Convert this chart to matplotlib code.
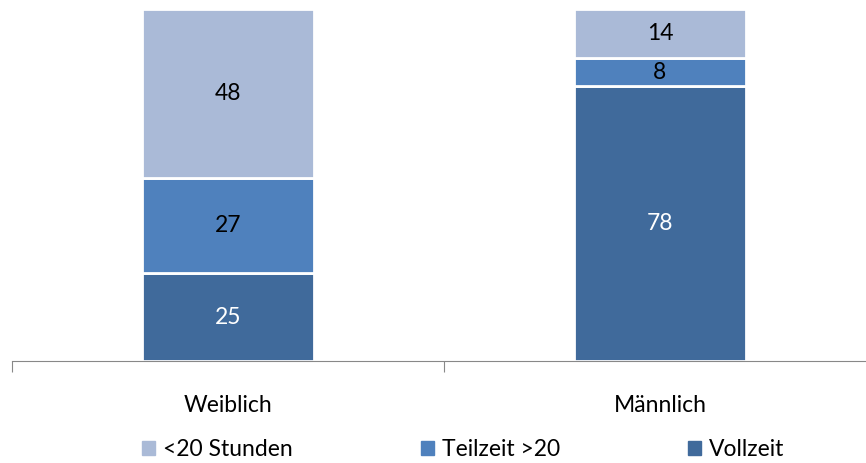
import numpy as np
import matplotlib.pyplot as plt
from matplotlib.patches import Patch

# Daten
kategorien = ['Weiblich', 'Männlich']
serien = ['<20 Stunden', 'Teilzeit >20', 'Vollzeit']
vollzeit = [25, 78]
teilzeit = [27, 8]
unter20 = [48, 14]

farben = {'Vollzeit': '#406A9B', 'Teilzeit >20': '#4F81BD', '<20 Stunden': '#AABAD7'}
textfarben = {'Vollzeit': 'white', 'Teilzeit >20': 'black', '<20 Stunden': 'black'}

plt.rcParams['font.family'] = ['Lato', 'DejaVu Sans']
fs = 16.5

fig = plt.figure(figsize=(8.66, 4.63), dpi=100)
ax = fig.add_axes([12 / 866, 102 / 463, 864 / 866, 352 / 463])

x = np.arange(len(kategorien))
breite = 0.4
unten = np.zeros(len(kategorien))
for name, werte in [('Vollzeit', vollzeit), ('Teilzeit >20', teilzeit), ('<20 Stunden', unter20)]:
    bars = ax.bar(x, werte, breite, bottom=unten, color=farben[name],
                  edgecolor='white', linewidth=2, label=name)
    for b, w, u in zip(bars, werte, unten):
        ax.text(b.get_x() + b.get_width() / 2, u + w / 2, str(w),
                ha='center', va='center', fontsize=fs, color=textfarben[name])
    unten += np.array(werte)

ax.set_xlim(-0.5, 1.5)
ax.set_ylim(0, 100)
for s in ['top', 'right', 'left']:
    ax.spines[s].set_visible(False)
ax.spines['bottom'].set_color('#888888')
ax.set_yticks([])
ax.set_xticks([-0.5, 0.5, 1.5])
ax.set_xticklabels([])
ax.tick_params(axis='x', length=8, color='#888888', direction='out')
for xi, k in zip(x, kategorien):
    ax.text(xi, -12.5, k, ha='center', va='center', fontsize=fs,
            transform=ax.transData)

handles = [Patch(color=farben[s]) for s in serien]
fig.legend(handles, serien, loc='center', bbox_to_anchor=(0.535, 13 / 463),
           ncol=3, frameon=False, fontsize=fs, handlelength=0.55, handleheight=0.55,
           handletextpad=0.35, columnspacing=5.6)

fig.savefig('out.png', dpi=100)
